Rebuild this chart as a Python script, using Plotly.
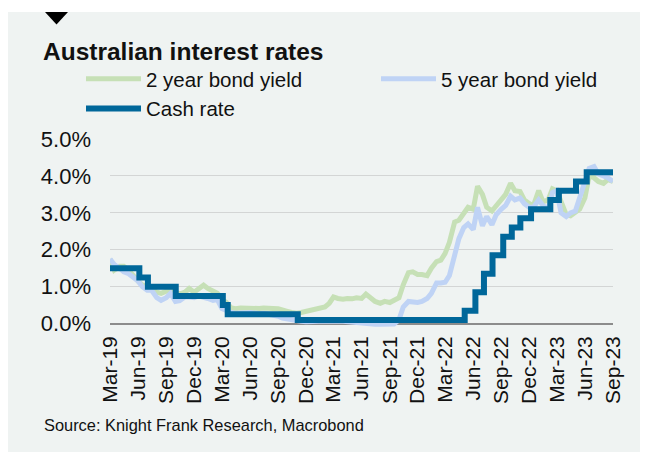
import plotly.graph_objects as go

# ---- data ----
years_months = [(2019, m) for m in range(3, 13)] + [(y, m) for y in (2020, 2021, 2022) for m in range(1, 13)] + [(2023, m) for m in range(1, 10)]
dates = []
for (y, m) in years_months:
    dates.append(f"{y}-{m:02d}-01")
    if not (y == 2023 and m == 9):
        dates.append(f"{y}-{m:02d}-15")

two_year = [
    1.75, 1.45, 1.55, 1.55, 1.45, 1.30, 1.15, 1.05, 1.00, 0.95, 0.85, 0.82, 0.88, 0.90, 0.85, 0.80, 0.85, 0.95, 0.85, 0.92,
    1.04, 0.95, 0.86, 0.82, 0.65, 0.58, 0.42, 0.40, 0.42, 0.41, 0.40, 0.42, 0.41, 0.42, 0.43, 0.41, 0.40, 0.38, 0.33, 0.30, 0.28, 0.30, 0.33, 0.37,
    0.40, 0.42, 0.45, 0.55, 0.72, 0.68, 0.66, 0.68, 0.67, 0.70, 0.68, 0.80, 0.70, 0.60, 0.55, 0.60, 0.57, 0.65, 0.70, 1.05, 1.38, 1.40, 1.33, 1.33,
    1.30, 1.50, 1.68, 1.72, 1.90, 2.20, 2.75, 2.80, 3.00, 3.15, 3.10, 3.72, 3.50, 3.15, 3.05, 3.20, 3.40, 3.50, 3.80, 3.60, 3.58, 3.35, 3.25, 3.20,
    3.60, 3.30, 3.35, 3.65, 3.60, 3.30, 2.95, 2.92, 3.00, 3.10, 3.40, 4.00, 3.95, 3.85, 3.80, 3.90, 3.85,
]
five_year = [
    1.75, 1.60, 1.50, 1.40, 1.35, 1.25, 1.15, 1.00, 0.90, 0.90, 0.70, 0.63, 0.70, 0.82, 0.60, 0.62, 0.72, 0.72, 0.70, 0.75,
    0.72, 0.68, 0.63, 0.65, 0.41, 0.35, 0.30, 0.28, 0.30, 0.29, 0.30, 0.28, 0.27, 0.28, 0.26, 0.25, 0.20, 0.15, 0.12, 0.10, 0.07, 0.06, 0.05, 0.06,
    0.07, 0.08, 0.07, 0.06, 0.08, 0.07, 0.06, 0.05, 0.02, 0.00, 0.00, -0.01, -0.02, -0.02, -0.02, -0.02, -0.02, -0.01, 0.10, 0.45, 0.60, 0.58, 0.57, 0.60,
    0.68, 0.82, 1.10, 1.10, 1.12, 1.30, 1.90, 2.30, 2.60, 2.70, 2.55, 3.15, 2.65, 2.90, 2.68, 2.95, 3.10, 3.20, 3.45, 3.35, 3.40, 3.25, 3.15, 3.15,
    3.35, 3.20, 3.10, 3.55, 3.60, 3.00, 2.90, 3.00, 3.05, 3.40, 3.80, 4.20, 4.25, 4.05, 4.00, 3.95, 3.85,
]
cash_dates = ["2019-03-01", "2019-06-05", "2019-07-03", "2019-10-02", "2020-03-04", "2020-03-20", "2020-11-04",
              "2022-05-04", "2022-06-08", "2022-07-06", "2022-08-03", "2022-09-07", "2022-10-05", "2022-11-02",
              "2022-12-07", "2023-02-08", "2023-03-08", "2023-05-03", "2023-06-07", "2023-09-01"]
cash_rate = [1.50, 1.25, 1.00, 0.75, 0.50, 0.25, 0.10, 0.35, 0.85, 1.35, 1.85, 2.35, 2.60, 2.85, 3.10, 3.35, 3.60, 3.85, 4.10, 4.10]

tick_dates = ["2019-03-01", "2019-06-01", "2019-09-01", "2019-12-01", "2020-03-01", "2020-06-01", "2020-09-01", "2020-12-01",
              "2021-03-01", "2021-06-01", "2021-09-01", "2021-12-01", "2022-03-01", "2022-06-01", "2022-09-01", "2022-12-01",
              "2023-03-01", "2023-06-01", "2023-09-01"]
tick_text = ["Mar-19", "Jun-19", "Sep-19", "Dec-19", "Mar-20", "Jun-20", "Sep-20", "Dec-20", "Mar-21", "Jun-21", "Sep-21",
             "Dec-21", "Mar-22", "Jun-22", "Sep-22", "Dec-22", "Mar-23", "Jun-23", "Sep-23"]

# ---- style ----
FONT = "Liberation Sans, Arial, sans-serif"
GREEN = "#c6e0b6"
BLUE = "#bfd3f5"
CASH = "#00679a"
PANEL = "#eff3f2"

# page body has an 8px margin, so the figure is drawn at (8, 8)
W, H = 640, 450
L, R, T, B = 102, 35, 131, 130
PW, PH = W - L - R, H - T - B

def px(x):
    return (x - L) / PW

def py(y):
    return (H - B - y) / PH

fig = go.Figure()
fig.add_trace(go.Scatter(x=dates, y=two_year, name="2 year bond yield", mode="lines",
                         line=dict(color=GREEN, width=5)))
fig.add_trace(go.Scatter(x=dates, y=five_year, name="5 year bond yield", mode="lines",
                         line=dict(color=BLUE, width=5)))
fig.add_trace(go.Scatter(x=cash_dates, y=cash_rate, name="Cash rate", mode="lines",
                         line=dict(color=CASH, width=6, shape="hv")))

fig.update_layout(
    width=W, height=H,
    margin=dict(l=L, r=R, t=T, b=B, autoexpand=False),
    paper_bgcolor=PANEL,
    plot_bgcolor=PANEL,
    font=dict(family=FONT, color="#111111"),
    showlegend=True,
    legend=dict(orientation="h", x=px(73), xanchor="left", y=py(51), yanchor="top",
                font=dict(size=20.5, family=FONT, color="#111111"),
                bgcolor="rgba(0,0,0,0)", itemwidth=55, entrywidth=225, entrywidthmode="pixels",
                traceorder="normal"),
    xaxis=dict(range=["2019-03-01", "2023-09-01"], tickmode="array", tickvals=tick_dates, ticktext=tick_text,
               tickangle=-90, showgrid=False, zeroline=False, showline=False, ticks="", automargin=False,
               tickfont=dict(size=21, family=FONT, color="#111111"), ticklabelstandoff=3),
    yaxis=dict(range=[-0.12, 5.0], tickmode="array", tickvals=[0, 1, 2, 3, 4, 5],
               ticktext=["0.0%", "1.0%", "2.0%", "3.0%", "4.0%", "5.0%"], automargin=False,
               showgrid=True, gridcolor="#d3d5d5", gridwidth=1, zeroline=True, zerolinecolor="#8c8c8c",
               zerolinewidth=1.5, showline=False, ticks="", tickfont=dict(size=22, family=FONT, color="#111111"),
               ticklabelstandoff=18),
    shapes=[
        # white page edges around the grey panel (top strip and right strip)
        dict(type="rect", xref="paper", yref="paper", x0=px(-2), x1=px(W + 2), y0=py(4), y1=py(-2),
             fillcolor="white", line=dict(width=0), layer="below"),
        dict(type="rect", xref="paper", yref="paper", x0=px(634), x1=px(W + 2), y0=py(H + 2), y1=py(-2),
             fillcolor="white", line=dict(width=0), layer="below"),
        dict(type="path", xref="paper", yref="paper",
             path=f"M{px(37)},{py(4)} L{px(60)},{py(4)} L{px(48.5)},{py(16.5)} Z",
             fillcolor="#000000", line=dict(width=0)),
    ],
    annotations=[
        dict(text="Australian interest rates", xref="paper", yref="paper", x=px(33), y=py(43),
             xanchor="left", yanchor="middle", showarrow=False,
             font=dict(size=24.5, family=FONT, color="#111111", weight="bold")),
        dict(text="Source: Knight Frank Research, Macrobond", xref="paper", yref="paper", x=px(34), y=py(417),
             xanchor="left", yanchor="middle", showarrow=False,
             font=dict(size=16.4, family=FONT, color="#111111")),
    ],
)

fig.write_html("out.html")
